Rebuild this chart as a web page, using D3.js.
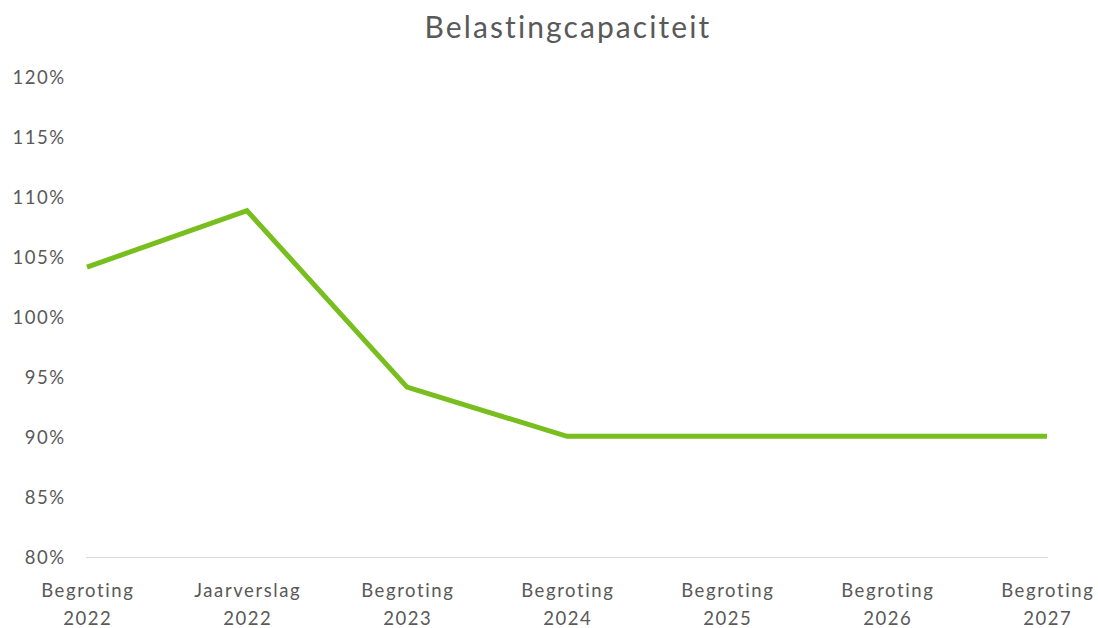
<!DOCTYPE html>
<html><head><meta charset="utf-8">
<script src="https://cdn.jsdelivr.net/npm/d3@7"></script>
<style>body{margin:0;background:#fff;} text{font-family:Lato,"Open Sans",sans-serif;}</style>
</head><body><svg id="c" width="1098" height="628"></svg>
<script>
const categories = [["Begroting","2022"],["Jaarverslag","2022"],["Begroting","2023"],["Begroting","2024"],["Begroting","2025"],["Begroting","2026"],["Begroting","2027"]];
const values = [104.2, 108.9, 94.2, 90.1, 90.1, 90.1, 90.1];
const yTicks = [80, 85, 90, 95, 100, 105, 110, 115, 120];
const title = "Belastingcapaciteit";

(function(){
const svg = d3.select("#c");
const mLeft = 87, mRight = 1047, mTop = 77.5, mBottom = 557.5;
const x = d3.scalePoint().domain(d3.range(categories.length)).range([mLeft, mRight]);
const y = d3.scaleLinear().domain([80, 120]).range([mBottom, mTop]);

svg.append("text").attr("x", 568).attr("y", 38).attr("text-anchor", "middle")
  .attr("font-size", 30).attr("letter-spacing", 2.1).attr("fill", "#595959").text(title);

const yAxis = d3.axisLeft(y).tickValues(yTicks).tickSize(0).tickPadding(0).tickFormat(d => d + "%");
const yg = svg.append("g").attr("transform", "translate(65.5,0)").call(yAxis);
yg.select(".domain").remove();
yg.selectAll("text").attr("font-size", 18.5).attr("letter-spacing", 1.5).attr("fill", "#595959")
  .attr("font-family", "Lato, sans-serif").attr("dy", "0.35em");

svg.append("line").attr("x1", mLeft - 1).attr("x2", mRight + 1).attr("y1", y(80)).attr("y2", y(80))
  .attr("stroke", "#d9d9d9").attr("stroke-width", 1);

const xg = svg.append("g");
categories.forEach((c, i) => {
  const t = xg.append("text").attr("x", x(i)).attr("y", 597).attr("text-anchor", "middle")
    .attr("font-size", 18.5).attr("letter-spacing", 1.6).attr("fill", "#595959");
  t.append("tspan").attr("x", x(i) + 0.8).text(c[0]);
  t.append("tspan").attr("x", x(i) + 0.8).attr("dy", 28).text(c[1]);
});

const line = d3.line().x((d, i) => x(i)).y(d => y(d));
svg.append("path").datum(values).attr("d", line).attr("fill", "none")
  .attr("stroke", "#78BE1E").attr("stroke-width", 5).attr("stroke-linejoin", "miter");
})();
</script></body></html>
